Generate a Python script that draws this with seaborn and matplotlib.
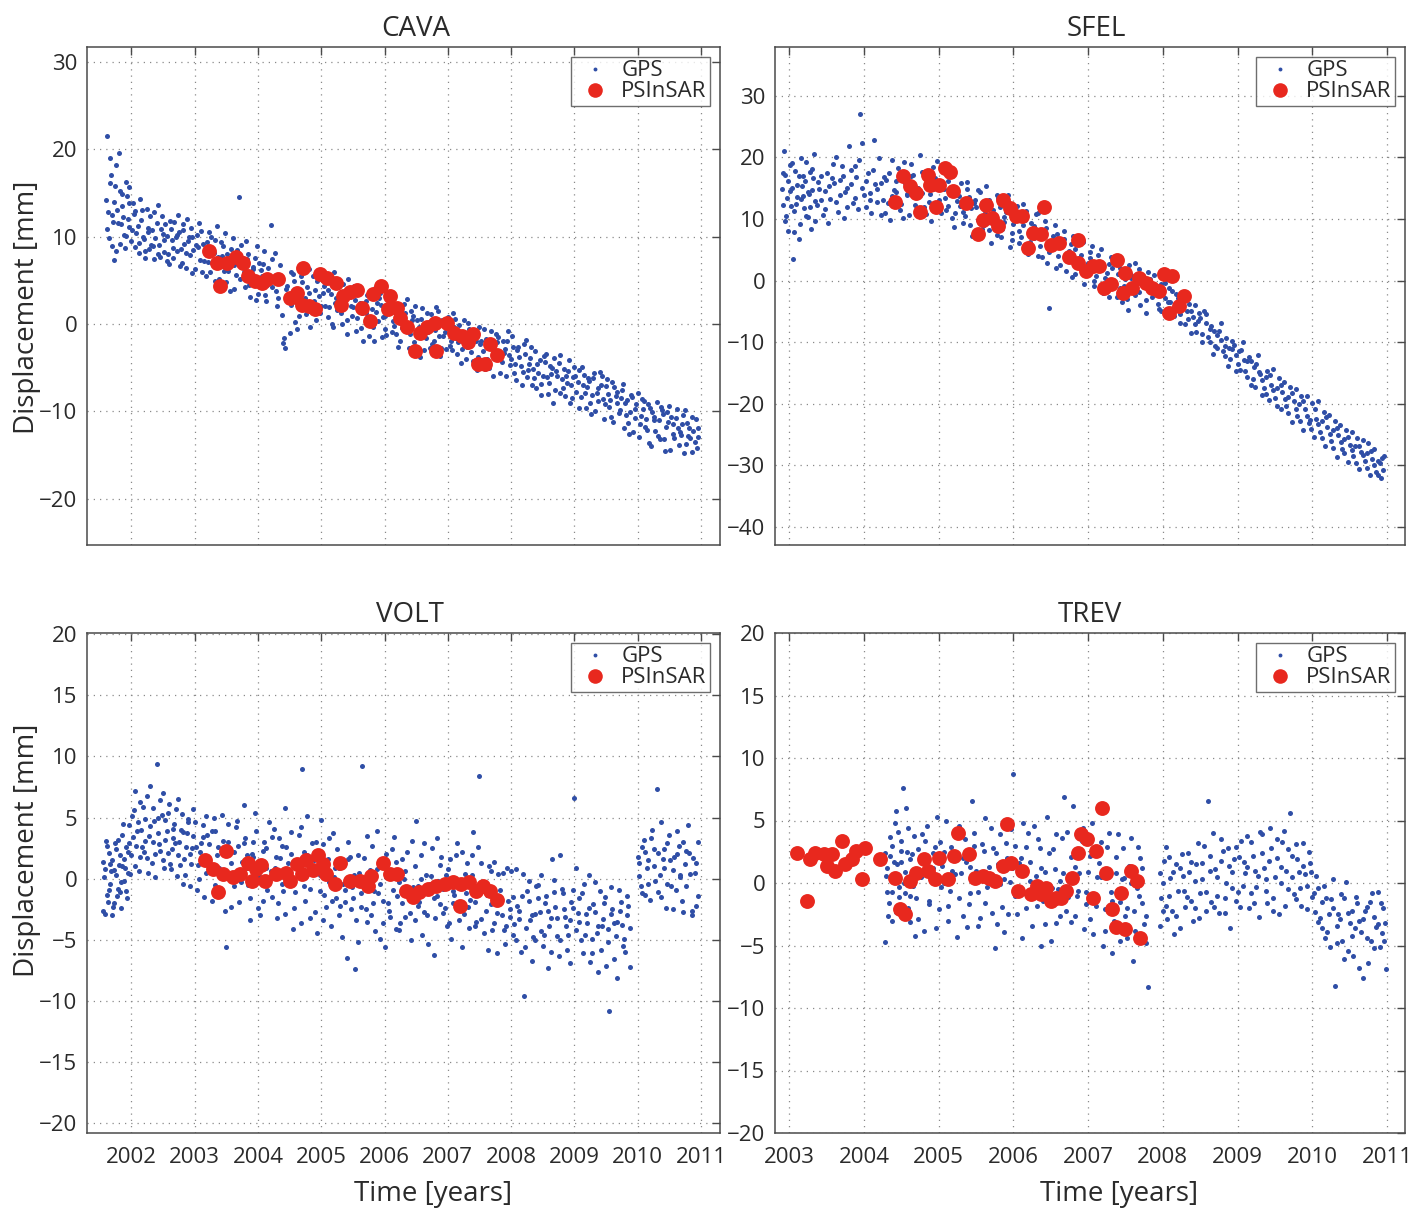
import numpy as np
import pandas as pd
import matplotlib
matplotlib.use("Agg")
import matplotlib.pyplot as plt
import seaborn as sns
from matplotlib.lines import Line2D

# ---------------- data ----------------
cava_gps_t = [2001.60, 2001.62, 2001.65, 2001.68, 2001.70, 2001.73, 2001.75, 2001.78, 2001.80, 2001.83,
              2001.86, 2001.88, 2001.91, 2001.94, 2001.97, 2002.00, 2002.04, 2002.08, 2002.12, 2002.16,
              2002.20, 2002.24, 2002.28, 2002.32, 2002.36, 2002.40, 2002.44, 2002.48, 2002.52, 2002.56,
              2002.60, 2002.64, 2002.68, 2002.72, 2002.76, 2002.80, 2002.84, 2002.88, 2002.92, 2002.96,
              2003.00, 2003.05, 2003.10, 2003.15, 2003.20, 2003.25, 2003.30, 2003.35, 2003.40, 2003.45,
              2003.50, 2003.55, 2003.60, 2003.65, 2003.70, 2003.75, 2003.80, 2003.85, 2003.90, 2003.95,
              2004.00, 2004.05, 2004.10, 2004.15, 2004.20, 2004.25, 2004.30, 2004.35, 2004.40, 2004.45,
              2004.50, 2004.55, 2004.60, 2004.65, 2004.70, 2004.75, 2004.80, 2004.85, 2004.90, 2004.95,
              2005.00, 2005.05, 2005.10, 2005.15, 2005.20, 2005.25, 2005.30, 2005.35, 2005.40, 2005.45,
              2005.50, 2005.55, 2005.60, 2005.65, 2005.70, 2005.75, 2005.80, 2005.85, 2005.90, 2005.95,
              2006.00, 2006.05, 2006.10, 2006.15, 2006.20, 2006.25, 2006.30, 2006.35, 2006.40, 2006.45,
              2006.50, 2006.55, 2006.60, 2006.65, 2006.70, 2006.75, 2006.80, 2006.85, 2006.90, 2006.95,
              2007.00, 2007.05, 2007.10, 2007.15, 2007.20, 2007.25, 2007.30, 2007.35, 2007.40, 2007.45,
              2007.50, 2007.55, 2007.60, 2007.65, 2007.70, 2007.75, 2007.80, 2007.85, 2007.90, 2007.95,
              2008.00, 2008.05, 2008.10, 2008.15, 2008.20, 2008.25, 2008.30, 2008.35, 2008.40, 2008.45,
              2008.50, 2008.55, 2008.60, 2008.65, 2008.70, 2008.75, 2008.80, 2008.85, 2008.90, 2008.95,
              2009.00, 2009.05, 2009.10, 2009.15, 2009.20, 2009.25, 2009.30, 2009.35, 2009.40, 2009.45,
              2009.50, 2009.55, 2009.60, 2009.65, 2009.70, 2009.75, 2009.80, 2009.85, 2009.90, 2009.95,
              2010.00, 2010.05, 2010.10, 2010.15, 2010.20, 2010.25, 2010.30, 2010.35, 2010.40, 2010.45,
              2010.50, 2010.55, 2010.60, 2010.65, 2010.70, 2010.75, 2010.80, 2010.85, 2010.90, 2010.95]
cava_gps_y = [14.2, 21.5, 9.8, 17.0, 12.5, 7.3, 15.8, 13.1, 19.6, 11.4,
              14.9, 10.2, 16.3, 12.0, 13.8, 9.5, 12.6, 10.4, 8.1, 11.9,
              9.7, 13.2, 8.6, 10.8, 7.4, 11.5, 9.0, 12.3, 8.2, 10.1,
              6.9, 9.6, 11.7, 8.3, 10.5, 7.0, 9.2, 12.0, 7.9, 9.9,
              6.3, 8.8, 10.6, 7.2, 9.4, 5.9, 8.1, 11.2, 6.6, 8.9,
              4.8, 7.5, 9.8, 5.6, 14.5, 6.9, 4.2, 8.0, 5.5, 7.6,
              3.4, 6.2, 8.3, 4.5, 11.3, 5.0, 2.1, 6.8, -2.2, 4.0,
              -1.0, 5.7, 2.5, 0.9, 4.8, 3.0, 6.3, 1.4, 3.9, 5.4,
              2.0, 4.3, 0.8, 3.4, 5.9, 1.6, 2.8, 4.6, 0.5, 3.1,
              1.9, -0.8, 3.8, 1.2, 2.6, -1.4, 1.7, 4.1, 0.3, 2.2,
              -0.6, 1.8, 3.5, -0.2, 1.3, -2.0, 0.7, 2.8, -1.1, 0.9,
              -3.3, -0.4, 1.8, -1.6, 0.2, -2.3, -0.7, 1.5, -2.8, -0.9,
              0.8, -1.9, -0.3, -3.4, -1.2, 0.5, -2.6, -1.0, -4.2, -2.0,
              -0.4, -3.1, -1.7, -5.0, -2.4, -3.6, -1.5, -4.4, -2.9, -0.8,
              -4.0, -5.6, -3.0, -4.8, -2.3, -6.1, -3.9, -5.2, -7.3, -4.1,
              -5.9, -3.4, -6.8, -5.0, -7.6, -4.5, -6.3, -8.2, -5.4, -7.0,
              -4.9, -6.6, -8.4, -5.8, -7.2, -9.1, -6.2, -7.9, -5.5, -8.6,
              -7.1, -9.5, -6.7, -8.3, -10.2, -7.6, -9.0, -11.3, -8.1, -9.7,
              -7.9, -10.5, -8.8, -12.1, -9.6, -11.0, -8.9, -13.2, -10.3, -11.8,
              -9.4, -12.6, -10.8, -13.9, -11.5, -9.9, -12.8, -10.7, -13.5, -11.9]
cava_gps_more = [(2001.63, 12.8), (2001.66, 16.1), (2001.69, 8.9), (2001.72, 14.0), (2001.76, 18.2), (2001.79, 11.6),
                 (2001.82, 9.1), (2001.85, 13.5), (2001.90, 8.7), (2001.93, 14.6), (2001.96, 11.1), (2002.02, 13.9),
                 (2002.06, 8.8), (2002.10, 11.2), (2002.14, 14.3), (2002.18, 10.0), (2002.22, 7.6), (2002.26, 11.0),
                 (2002.30, 12.4), (2002.34, 8.9), (2002.38, 9.8), (2002.42, 13.6), (2002.46, 7.7), (2002.50, 10.3),
                 (2002.54, 11.4), (2002.58, 8.0), (2002.62, 10.9), (2002.66, 7.5), (2002.70, 9.9), (2002.74, 12.5),
                 (2002.78, 8.6), (2002.82, 10.7), (2002.86, 6.4), (2002.90, 9.5), (2002.94, 11.0), (2002.98, 8.5),
                 (2003.03, 10.2), (2003.08, 7.3), (2003.13, 9.1), (2003.18, 5.5), (2003.23, 10.5), (2003.28, 7.0),
                 (2003.33, 9.6), (2003.38, 5.2), (2003.43, 7.8), (2003.48, 10.4), (2003.53, 6.1), (2003.58, 8.6),
                 (2003.63, 4.0), (2003.68, 7.1), (2003.73, 9.0), (2003.78, 5.9), (2003.83, 7.4), (2003.88, 3.1),
                 (2003.93, 6.5), (2003.98, 8.9), (2004.03, 4.8), (2004.08, 6.9), (2004.13, 2.6), (2004.18, 5.3),
                 (2004.23, 7.4), (2004.28, 3.8), (2004.33, 4.9), (2004.38, 1.0), (2004.43, -2.8), (2004.48, 3.3),
                 (2004.53, 6.0), (2004.58, 0.2), (2004.63, 3.7), (2004.68, 5.5), (2004.73, 1.9), (2004.78, 4.2),
                 (2004.83, -0.4), (2004.88, 2.6), (2004.93, 4.9), (2004.98, 1.2), (2005.03, 3.6), (2005.08, 5.1),
                 (2005.13, 1.9), (2005.18, -0.3), (2005.23, 3.0), (2005.28, 4.4), (2005.33, 0.0), (2005.38, 2.3),
                 (2005.43, 5.2), (2005.48, 0.9), (2005.53, 2.7), (2005.58, 4.0), (2005.63, -0.5), (2005.68, 1.9),
                 (2005.73, 3.3), (2005.78, 0.6), (2005.83, -2.0), (2005.88, 2.4), (2005.93, 3.6), (2005.98, 0.8),
                 (2006.03, -1.3), (2006.08, 2.6), (2006.13, 0.3), (2006.18, -1.1), (2006.23, 2.0), (2006.28, -0.5),
                 (2006.33, 1.2), (2006.38, -2.7), (2006.43, 0.4), (2006.48, 2.1), (2006.53, -1.5), (2006.58, 0.6),
                 (2006.63, -3.0), (2006.68, -0.9), (2006.73, 1.1), (2006.78, -1.9), (2006.83, 0.4), (2006.88, -3.7),
                 (2006.93, -1.4), (2006.98, -0.1), (2007.03, -2.5), (2007.08, 1.2), (2007.13, -1.6), (2007.18, -0.1),
                 (2007.23, -2.9), (2007.28, -4.0), (2007.33, -0.6), (2007.38, -2.2), (2007.43, -0.9), (2007.48, -3.8),
                 (2007.53, -1.9), (2007.58, -5.2), (2007.63, -2.8), (2007.68, -0.8), (2007.73, -3.9), (2007.78, -2.1),
                 (2007.83, -5.6), (2007.88, -3.3), (2007.93, -1.9), (2007.98, -4.7), (2008.03, -2.6), (2008.08, -6.4),
                 (2008.13, -3.8), (2008.18, -5.5), (2008.23, -1.8), (2008.28, -4.6), (2008.33, -7.0), (2008.38, -3.1),
                 (2008.43, -5.6), (2008.48, -6.9), (2008.53, -4.4), (2008.58, -8.0), (2008.63, -5.7), (2008.68, -3.9),
                 (2008.73, -6.0), (2008.78, -7.9), (2008.83, -5.2), (2008.88, -6.8), (2008.93, -9.0), (2008.98, -6.1),
                 (2009.03, -7.8), (2009.08, -5.3), (2009.13, -7.0), (2009.18, -9.6), (2009.23, -6.5), (2009.28, -8.1),
                 (2009.33, -10.0), (2009.38, -7.3), (2009.43, -6.0), (2009.48, -9.2), (2009.53, -8.0), (2009.58, -10.6),
                 (2009.63, -7.2), (2009.68, -9.1), (2009.73, -8.5), (2009.78, -11.9), (2009.83, -8.7), (2009.88, -10.1),
                 (2009.93, -12.4), (2009.98, -9.2), (2010.03, -11.4), (2010.08, -9.7), (2010.13, -10.9), (2010.18, -13.6),
                 (2010.23, -10.1), (2010.28, -12.3), (2010.33, -11.0), (2010.38, -9.8), (2010.43, -14.5), (2010.48, -11.2),
                 (2010.53, -10.6), (2010.58, -13.0), (2010.63, -11.9), (2010.68, -12.7), (2010.73, -14.8), (2010.78, -11.3),
                 (2010.83, -13.1), (2010.88, -12.2), (2010.93, -14.2)]
cava_gps_extra = [(2001.615, 10.9), (2001.665, 19.0), (2001.715, 11.7), (2001.765, 8.4), (2001.815, 15.2), (2001.865, 12.2),
                  (2001.915, 10.1), (2001.965, 15.7), (2002.015, 10.7), (2002.065, 12.9), (2002.115, 9.3), (2002.165, 13.0),
                  (2002.215, 8.4), (2002.265, 10.5), (2002.315, 9.0), (2002.365, 12.8), (2002.415, 8.0), (2002.465, 10.9),
                  (2002.515, 9.6), (2002.565, 7.2), (2002.615, 11.8), (2002.665, 8.7), (2002.715, 10.2), (2002.765, 6.6),
                  (2002.815, 11.4), (2002.865, 8.1), (2002.915, 10.0), (2002.965, 5.8), (2003.015, 9.0), (2003.065, 11.5),
                  (2003.115, 6.0), (2003.165, 8.3), (2003.215, 7.1), (2003.265, 9.9), (2003.315, 4.9), (2003.365, 7.7),
                  (2003.415, 9.4), (2003.465, 6.1), (2003.515, 8.0), (2003.565, 3.8), (2003.615, 6.7), (2003.665, 8.5),
                  (2003.715, 5.1), (2003.765, 7.6), (2003.815, 9.5), (2003.865, 4.5), (2003.915, 6.3), (2003.965, 2.7),
                  (2004.015, 7.0), (2004.065, 5.5), (2004.115, 3.3), (2004.165, 6.4), (2004.215, 4.2), (2004.265, 8.1),
                  (2004.315, 3.0), (2004.365, 5.4), (2004.415, -1.6), (2004.465, 4.4), (2004.515, 2.2), (2004.565, 4.9),
                  (2004.615, -0.6), (2004.665, 3.0), (2004.715, 6.8), (2004.765, 1.1), (2004.815, 3.6), (2004.865, 5.5),
                  (2004.915, 0.4), (2004.965, 3.2), (2005.015, 5.6), (2005.065, 2.1), (2005.115, 3.9), (2005.165, 0.0),
                  (2005.215, 2.4), (2005.265, 4.9), (2005.315, 1.3), (2005.365, 3.3), (2005.415, -1.1), (2005.465, 2.0),
                  (2005.515, 4.4), (2005.565, 0.7), (2005.615, 2.4), (2005.665, -1.9), (2005.715, 1.2), (2005.765, 3.6),
                  (2005.815, -0.3), (2005.865, 1.4), (2005.915, 3.0), (2005.965, -1.5), (2006.015, 0.9), (2006.065, 2.4),
                  (2006.115, -0.9), (2006.165, 1.9), (2006.215, -2.6), (2006.265, 0.1), (2006.315, 2.3), (2006.365, -0.8),
                  (2006.415, 1.5), (2006.465, -2.1), (2006.515, 0.4), (2006.565, -3.8), (2006.615, -0.9), (2006.665, 1.3),
                  (2006.715, -2.7), (2006.765, -0.3), (2006.815, 1.9), (2006.865, -1.4), (2006.915, 0.5), (2006.965, -2.9),
                  (2007.015, -0.6), (2007.065, -3.0), (2007.115, 0.6), (2007.165, -2.1), (2007.215, -4.5), (2007.265, -1.6),
                  (2007.315, 0.1), (2007.365, -3.2), (2007.415, -1.4), (2007.465, -5.3), (2007.515, -2.3), (2007.565, -0.6),
                  (2007.615, -4.0), (2007.665, -2.1), (2007.715, -5.9), (2007.765, -1.2), (2007.815, -3.3), (2007.865, -2.0),
                  (2007.915, -6.0), (2007.965, -3.5), (2008.015, -1.4), (2008.065, -4.6), (2008.115, -2.6), (2008.165, -7.0),
                  (2008.215, -3.4), (2008.265, -5.3), (2008.315, -2.6), (2008.365, -6.2), (2008.415, -4.6), (2008.465, -8.1),
                  (2008.515, -3.7), (2008.565, -6.1), (2008.615, -4.8), (2008.665, -9.0), (2008.715, -5.4), (2008.765, -3.6),
                  (2008.815, -7.3), (2008.865, -5.9), (2008.915, -4.1), (2008.965, -8.5), (2009.015, -6.0), (2009.065, -9.6),
                  (2009.115, -4.9), (2009.165, -7.9), (2009.215, -6.2), (2009.265, -10.3), (2009.315, -5.6), (2009.365, -8.8),
                  (2009.415, -7.0), (2009.465, -10.9), (2009.515, -6.3), (2009.565, -8.7), (2009.615, -11.2), (2009.665, -7.8),
                  (2009.715, -9.9), (2009.765, -6.9), (2009.815, -10.4), (2009.865, -12.6), (2009.915, -8.4), (2009.965, -10.8),
                  (2010.015, -12.9), (2010.065, -8.6), (2010.115, -11.8), (2010.165, -9.2), (2010.215, -14.0), (2010.265, -10.7),
                  (2010.315, -12.8), (2010.365, -9.5), (2010.415, -13.2), (2010.465, -10.1), (2010.515, -14.4), (2010.565, -11.5),
                  (2010.615, -9.7), (2010.665, -12.4), (2010.715, -10.4), (2010.765, -13.7), (2010.815, -11.9), (2010.865, -14.6),
                  (2010.915, -10.9), (2010.945, -12.9)]
cava_ps_t = [2003.22, 2003.35, 2003.40, 2003.51, 2003.66, 2003.77, 2003.85, 2003.95, 2004.06, 2004.14,
             2004.32, 2004.51, 2004.61, 2004.72, 2004.69, 2004.80, 2004.90, 2004.98, 2005.09, 2005.24,
             2005.35, 2005.32, 2005.45, 2005.56, 2005.64, 2005.77, 2005.82, 2005.95, 2006.09, 2006.06,
             2006.19, 2006.24, 2006.35, 2006.48, 2006.56, 2006.67, 2006.82, 2006.80, 2006.98, 2007.09,
             2007.22, 2007.32, 2007.40, 2007.48, 2007.59, 2007.67, 2007.77]
cava_ps_y = [8.3, 7.0, 4.3, 7.0, 7.7, 7.0, 5.5, 4.9, 4.7, 5.1,
             5.1, 3.0, 3.6, 6.4, 2.2, 2.0, 1.7, 5.7, 5.3, 4.7,
             3.2, 2.2, 3.7, 3.9, 1.8, 0.3, 3.4, 4.3, 3.2, 1.7,
             1.8, 0.7, -0.3, -3.1, -1.0, -0.3, -3.1, 0.1, 0.1, -1.0,
             -1.4, -2.1, -1.2, -4.6, -4.6, -2.3, -3.5]

sfel_gps_t = [2002.90, 2002.93, 2002.96, 2002.99, 2003.02, 2003.05, 2003.08, 2003.11, 2003.14, 2003.17,
              2003.20, 2003.23, 2003.26, 2003.29, 2003.32, 2003.35, 2003.40, 2003.45, 2003.50, 2003.55,
              2003.60, 2003.65, 2003.70, 2003.75, 2003.80, 2003.85, 2003.90, 2003.95, 2004.00, 2004.05,
              2004.10, 2004.15, 2004.20, 2004.25, 2004.30, 2004.35, 2004.40, 2004.45, 2004.50, 2004.55,
              2004.60, 2004.65, 2004.70, 2004.75, 2004.80, 2004.85, 2004.90, 2004.95, 2005.00, 2005.05,
              2005.10, 2005.15, 2005.20, 2005.25, 2005.30, 2005.35, 2005.40, 2005.45, 2005.50, 2005.55,
              2005.60, 2005.65, 2005.70, 2005.75, 2005.80, 2005.85, 2005.90, 2005.95, 2006.00, 2006.05,
              2006.10, 2006.15, 2006.20, 2006.25, 2006.30, 2006.35, 2006.40, 2006.45, 2006.50, 2006.55,
              2006.60, 2006.65, 2006.70, 2006.75, 2006.80, 2006.85, 2006.90, 2006.95, 2007.00, 2007.05,
              2007.10, 2007.15, 2007.20, 2007.25, 2007.30, 2007.35, 2007.40, 2007.45, 2007.50, 2007.55,
              2007.60, 2007.65, 2007.70, 2007.75, 2007.80, 2007.85, 2007.90, 2007.95, 2008.00, 2008.05,
              2008.10, 2008.15, 2008.20, 2008.25, 2008.30, 2008.35, 2008.40, 2008.45, 2008.50, 2008.55,
              2008.60, 2008.65, 2008.70, 2008.75, 2008.80, 2008.85, 2008.90, 2008.95, 2009.00, 2009.05,
              2009.10, 2009.15, 2009.20, 2009.25, 2009.30, 2009.35, 2009.40, 2009.45, 2009.50, 2009.55,
              2009.60, 2009.65, 2009.70, 2009.75, 2009.80, 2009.85, 2009.90, 2009.95, 2010.00, 2010.05,
              2010.10, 2010.15, 2010.20, 2010.25, 2010.30, 2010.35, 2010.40, 2010.45, 2010.50, 2010.55,
              2010.60, 2010.65, 2010.70, 2010.75, 2010.80, 2010.85, 2010.90, 2010.95]
sfel_gps_y = [14.8, 21.0, 10.5, 16.2, 12.1, 3.5, 17.8, 13.6, 9.2, 15.4,
              11.8, 19.3, 14.0, 8.4, 16.7, 12.9, 14.9, 10.7, 17.4, 13.3,
              15.9, 11.2, 18.6, 14.4, 21.8, 12.6, 16.8, 27.0, 13.9, 17.5,
              11.0, 15.6, 19.9, 13.0, 16.4, 9.8, 14.7, 18.2, 12.4, 15.8,
              10.6, 17.1, 13.5, 20.4, 12.0, 15.2, 9.6, 16.6, 13.1, 18.7,
              11.5, 14.6, 8.7, 12.9, 15.8, 10.4, 13.6, 7.2, 11.9, 14.3,
              9.0, 12.2, 6.1, 10.6, 13.4, 8.3, 11.1, 5.4, 9.2, 12.1,
              7.0, 9.9, 4.3, 8.1, 10.8, 5.6, 7.7, 2.9, 6.4, 9.1,
              4.0, 5.9, 1.5, 4.8, 7.3, 2.4, 4.1, -0.5, 2.9, 5.6,
              0.8, 2.5, -2.0, 1.3, 3.9, -0.6, 1.0, -3.4, 0.2, 2.6,
              -1.8, -0.3, -4.0, -1.1, 1.4, -2.6, -0.9, -4.6, -2.0, 0.3,
              -3.5, -5.8, -2.9, -4.4, -7.0, -3.8, -5.9, -8.3, -6.1, -4.9,
              -9.2, -7.4, -10.6, -8.1, -11.5, -9.3, -12.8, -10.4, -13.6, -11.2,
              -14.7, -12.4, -16.0, -13.5, -15.2, -17.4, -14.6, -16.9, -19.1, -15.8,
              -18.0, -20.3, -17.2, -19.6, -22.0, -18.7, -20.8, -23.1, -19.9, -22.4,
              -24.6, -21.3, -23.7, -26.0, -22.8, -25.1, -27.3, -24.2, -26.6, -28.4,
              -25.5, -27.8, -29.2, -26.4, -28.9, -31.0, -29.6, -30.8]
sfel_gps_more = [(2002.92, 12.3), (2002.95, 17.2), (2002.98, 8.1), (2003.01, 14.6), (2003.04, 19.0), (2003.07, 11.3),
                 (2003.10, 15.5), (2003.13, 6.8), (2003.16, 13.2), (2003.19, 17.0), (2003.22, 10.4), (2003.25, 14.3),
                 (2003.28, 12.0), (2003.31, 18.1), (2003.34, 9.7), (2003.38, 16.0), (2003.43, 13.1), (2003.48, 11.6),
                 (2003.53, 15.3), (2003.58, 18.9), (2003.63, 12.7), (2003.68, 16.3), (2003.73, 10.1), (2003.78, 15.0),
                 (2003.83, 17.9), (2003.88, 13.4), (2003.93, 19.5), (2003.98, 15.1), (2004.03, 11.9), (2004.08, 14.2),
                 (2004.13, 22.8), (2004.18, 12.8), (2004.23, 15.9), (2004.28, 10.9), (2004.33, 17.4), (2004.38, 13.8),
                 (2004.43, 16.1), (2004.48, 11.4), (2004.53, 19.2), (2004.58, 14.0), (2004.63, 16.9), (2004.68, 12.3),
                 (2004.73, 15.1), (2004.78, 17.7), (2004.83, 10.8), (2004.88, 14.1), (2004.93, 18.5), (2004.98, 11.8),
                 (2005.03, 15.3), (2005.08, 13.4), (2005.13, 16.2), (2005.18, 10.2), (2005.23, 14.8), (2005.28, 12.1),
                 (2005.33, 9.3), (2005.38, 14.9), (2005.43, 11.7), (2005.48, 13.1), (2005.53, 9.8), (2005.58, 12.6),
                 (2005.63, 15.4), (2005.68, 8.2), (2005.73, 11.4), (2005.78, 13.9), (2005.83, 7.1), (2005.88, 10.3),
                 (2005.93, 12.9), (2005.98, 6.6), (2006.03, 10.5), (2006.08, 8.0), (2006.13, 12.4), (2006.18, 5.2),
                 (2006.23, 9.4), (2006.28, 6.9), (2006.33, 11.0), (2006.38, 3.8), (2006.43, 8.6), (2006.48, -4.4),
                 (2006.53, 5.1), (2006.58, 7.6), (2006.63, 2.6), (2006.68, 6.7), (2006.73, 4.3), (2006.78, 0.6),
                 (2006.83, 5.2), (2006.88, 3.0), (2006.93, 6.2), (2006.98, 1.1), (2007.03, 3.7), (2007.08, -0.9),
                 (2007.13, 4.2), (2007.18, 1.8), (2007.23, -1.4), (2007.28, 2.7), (2007.33, 0.1), (2007.38, -2.6),
                 (2007.43, 2.0), (2007.48, -0.8), (2007.53, -4.8), (2007.58, 0.9), (2007.63, -2.3), (2007.68, 1.9),
                 (2007.73, -0.4), (2007.78, -3.1), (2007.83, 0.2), (2007.88, -1.6), (2007.93, -3.8), (2007.98, -0.5),
                 (2008.03, -2.8), (2008.08, -1.2), (2008.13, -4.5), (2008.18, -2.1), (2008.23, -5.4), (2008.28, -3.0),
                 (2008.33, -6.2), (2008.38, -4.9), (2008.43, -7.1), (2008.48, -5.3), (2008.53, -8.6), (2008.58, -6.8),
                 (2008.63, -9.9), (2008.68, -8.2), (2008.73, -11.0), (2008.78, -9.6), (2008.83, -12.3), (2008.88, -10.9),
                 (2008.93, -9.8), (2008.98, -12.0), (2009.03, -14.5), (2009.08, -12.9), (2009.13, -15.6), (2009.18, -13.1),
                 (2009.23, -17.2), (2009.28, -14.8), (2009.33, -16.1), (2009.38, -18.4), (2009.43, -15.3), (2009.48, -17.7),
                 (2009.53, -20.4), (2009.58, -16.9), (2009.63, -19.2), (2009.68, -21.5), (2009.73, -18.3), (2009.78, -20.9),
                 (2009.83, -22.7), (2009.88, -19.5), (2009.93, -21.9), (2009.98, -24.0), (2010.03, -20.8), (2010.08, -23.3),
                 (2010.13, -25.5), (2010.18, -22.2), (2010.23, -24.9), (2010.28, -27.1), (2010.33, -23.9), (2010.38, -26.2),
                 (2010.43, -28.0), (2010.48, -25.4), (2010.53, -27.5), (2010.58, -29.6), (2010.63, -26.8), (2010.68, -28.3),
                 (2010.73, -30.4), (2010.78, -27.6), (2010.83, -29.9), (2010.88, -31.6), (2010.93, -28.8)]
sfel_gps_extra = [(2002.915, 17.4), (2002.945, 9.6), (2002.975, 13.4), (2003.005, 18.8), (2003.035, 15.0), (2003.065, 7.9),
                  (2003.095, 12.5), (2003.125, 16.9), (2003.155, 19.9), (2003.185, 13.7), (2003.215, 16.1), (2003.245, 10.3),
                  (2003.275, 17.6), (2003.305, 14.7), (2003.335, 20.6), (2003.375, 12.2), (2003.425, 17.0), (2003.475, 14.5),
                  (2003.525, 9.4), (2003.575, 16.6), (2003.625, 20.1), (2003.675, 13.9), (2003.725, 16.9), (2003.775, 12.0),
                  (2003.825, 15.6), (2003.875, 18.6), (2003.925, 11.6), (2003.975, 22.3), (2004.025, 16.2), (2004.075, 13.1),
                  (2004.125, 17.9), (2004.175, 14.9), (2004.225, 10.6), (2004.275, 16.8), (2004.325, 12.6), (2004.375, 19.6),
                  (2004.425, 14.4), (2004.475, 16.9), (2004.525, 10.1), (2004.575, 13.9), (2004.625, 18.9), (2004.675, 15.3),
                  (2004.725, 11.1), (2004.775, 14.2), (2004.825, 16.8), (2004.875, 12.7), (2004.925, 14.9), (2004.975, 19.4),
                  (2005.025, 11.0), (2005.075, 14.8), (2005.125, 12.1), (2005.175, 17.0), (2005.225, 10.9), (2005.275, 13.7),
                  (2005.325, 11.1), (2005.375, 16.0), (2005.425, 9.1), (2005.475, 12.6), (2005.525, 14.7), (2005.575, 8.4),
                  (2005.625, 10.9), (2005.675, 13.0), (2005.725, 9.4), (2005.775, 7.4), (2005.825, 11.9), (2005.875, 9.5),
                  (2005.925, 13.9), (2005.975, 7.7), (2006.025, 10.9), (2006.075, 6.1), (2006.125, 9.0), (2006.175, 11.3),
                  (2006.225, 6.2), (2006.275, 8.8), (2006.325, 4.0), (2006.375, 7.1), (2006.425, 9.6), (2006.475, 4.6),
                  (2006.525, 7.3), (2006.575, 2.1), (2006.625, 5.6), (2006.675, 8.0), (2006.725, 3.1), (2006.775, 5.9),
                  (2006.825, 1.1), (2006.875, 3.6), (2006.925, 6.4), (2006.975, 2.2), (2007.025, 4.7), (2007.075, -0.1),
                  (2007.125, 2.9), (2007.175, 5.2), (2007.225, 0.4), (2007.275, -2.6), (2007.325, 2.1), (2007.375, 4.0),
                  (2007.425, -1.2), (2007.475, 1.7), (2007.525, -3.0), (2007.575, 0.5), (2007.625, 2.9), (2007.675, -1.9),
                  (2007.725, 0.8), (2007.775, -5.2), (2007.825, -1.6), (2007.875, 0.9), (2007.925, -2.3), (2007.975, -4.9),
                  (2008.025, -0.4), (2008.075, -3.4), (2008.125, -1.7), (2008.175, -4.0), (2008.225, -6.8), (2008.275, -2.1),
                  (2008.325, -4.9), (2008.375, -8.5), (2008.425, -4.0), (2008.475, -6.6), (2008.525, -10.0), (2008.575, -5.4),
                  (2008.625, -7.8), (2008.675, -11.9), (2008.725, -8.9), (2008.775, -6.9), (2008.825, -10.6), (2008.875, -13.9),
                  (2008.925, -11.1), (2008.975, -14.6), (2009.025, -11.4), (2009.075, -9.9), (2009.125, -13.1), (2009.175, -16.9),
                  (2009.225, -14.1), (2009.275, -12.0), (2009.325, -18.6), (2009.375, -15.6), (2009.425, -19.4), (2009.475, -14.4),
                  (2009.525, -17.5), (2009.575, -20.9), (2009.625, -16.4), (2009.675, -18.9), (2009.725, -23.0), (2009.775, -17.6),
                  (2009.825, -20.1), (2009.875, -24.2), (2009.925, -18.8), (2009.975, -22.6), (2010.025, -25.3), (2010.075, -19.6),
                  (2010.125, -22.8), (2010.175, -26.9), (2010.225, -21.8), (2010.275, -24.2), (2010.325, -28.6), (2010.375, -23.4),
                  (2010.425, -25.7), (2010.475, -29.4), (2010.525, -24.6), (2010.575, -26.8), (2010.625, -30.6), (2010.675, -25.8),
                  (2010.725, -28.0), (2010.775, -31.5), (2010.825, -27.4), (2010.875, -29.3), (2010.925, -32.0), (2010.955, -28.4)]
sfel_ps_t = [2004.41, 2004.52, 2004.61, 2004.70, 2004.75, 2004.86, 2004.88, 2004.97, 2005.01, 2005.08,
             2005.15, 2005.19, 2005.37, 2005.52, 2005.59, 2005.64, 2005.72, 2005.79, 2005.86, 2005.95,
             2006.04, 2006.12, 2006.19, 2006.26, 2006.37, 2006.41, 2006.50, 2006.61, 2006.75, 2006.86,
             2006.86, 2006.97, 2007.06, 2007.15, 2007.21, 2007.30, 2007.39, 2007.46, 2007.50, 2007.59,
             2007.68, 2007.77, 2007.86, 2007.95, 2008.01, 2008.12, 2008.08, 2008.21, 2008.28]
sfel_ps_y = [12.8, 16.9, 15.3, 14.2, 11.2, 17.2, 15.5, 12.0, 15.5, 18.2,
             17.7, 14.5, 12.6, 7.5, 9.9, 12.3, 10.1, 8.8, 13.1, 11.8,
             10.4, 10.4, 5.3, 7.7, 7.5, 12.0, 5.8, 6.1, 3.9, 6.6,
             2.9, 1.5, 2.3, 2.3, -1.2, -0.6, 3.4, -2.0, 1.2, -1.2,
             0.4, -0.4, -1.2, -1.7, 1.0, 0.7, -5.2, -4.1, -2.5]

volt_gps_t = [2001.55, 2001.58, 2001.61, 2001.64, 2001.67, 2001.70, 2001.73, 2001.76, 2001.79, 2001.82,
              2001.85, 2001.88, 2001.91, 2001.94, 2001.97, 2002.00, 2002.04, 2002.08, 2002.12, 2002.16,
              2002.20, 2002.24, 2002.28, 2002.32, 2002.36, 2002.40, 2002.44, 2002.48, 2002.52, 2002.56,
              2002.60, 2002.64, 2002.68, 2002.72, 2002.76, 2002.80, 2002.84, 2002.88, 2002.92, 2002.96,
              2003.00, 2003.05, 2003.10, 2003.15, 2003.20, 2003.25, 2003.30, 2003.35, 2003.40, 2003.45,
              2003.50, 2003.55, 2003.60, 2003.65, 2003.70, 2003.75, 2003.80, 2003.85, 2003.90, 2003.95,
              2004.00, 2004.05, 2004.10, 2004.15, 2004.20, 2004.25, 2004.30, 2004.35, 2004.40, 2004.45,
              2004.50, 2004.55, 2004.60, 2004.65, 2004.70, 2004.75, 2004.80, 2004.85, 2004.90, 2004.95,
              2005.00, 2005.05, 2005.10, 2005.15, 2005.20, 2005.25, 2005.30, 2005.35, 2005.40, 2005.45,
              2005.50, 2005.55, 2005.60, 2005.65, 2005.70, 2005.75, 2005.80, 2005.85, 2005.90, 2005.95,
              2006.00, 2006.05, 2006.10, 2006.15, 2006.20, 2006.25, 2006.30, 2006.35, 2006.40, 2006.45,
              2006.50, 2006.55, 2006.60, 2006.65, 2006.70, 2006.75, 2006.80, 2006.85, 2006.90, 2006.95,
              2007.00, 2007.05, 2007.10, 2007.15, 2007.20, 2007.25, 2007.30, 2007.35, 2007.40, 2007.45,
              2007.50, 2007.55, 2007.60, 2007.65, 2007.70, 2007.75, 2007.80, 2007.85, 2007.90, 2007.95,
              2008.00, 2008.05, 2008.10, 2008.15, 2008.20, 2008.25, 2008.30, 2008.35, 2008.40, 2008.45,
              2008.50, 2008.55, 2008.60, 2008.65, 2008.70, 2008.75, 2008.80, 2008.85, 2008.90, 2008.95,
              2009.00, 2009.05, 2009.10, 2009.15, 2009.20, 2009.25, 2009.30, 2009.35, 2009.40, 2009.45,
              2009.50, 2009.55, 2009.60, 2009.65, 2009.70, 2009.75, 2009.80, 2009.85, 2010.00, 2010.05,
              2010.10, 2010.15, 2010.20, 2010.25, 2010.30, 2010.35, 2010.40, 2010.45, 2010.50, 2010.55,
              2010.60, 2010.65, 2010.70, 2010.75, 2010.80, 2010.85, 2010.90, 2010.95]
volt_gps_y = [-2.6, 0.8, -1.3, 2.1, -0.4, 1.5, -2.0, 0.3, 3.2, -1.1,
              1.0, -0.2, 2.6, 0.5, 4.4, 1.9, 5.6, 2.7, 0.6, 4.0,
              2.2, 6.8, 3.5, 1.3, 4.7, 9.4, 2.8, 5.2, 0.9, 3.9,
              6.1, 2.4, 4.5, 0.2, 3.0, 5.3, 1.6, 3.7, -0.6, 2.5,
              4.6, 1.1, 2.9, -1.5, 3.6, 0.7, 5.0, 1.9, -0.8, 3.1,
              -5.6, 2.3, 0.1, 4.2, -1.9, 1.4, 3.3, -0.5, 2.0, 5.4,
              -2.4, 1.2, 3.0, -0.9, 0.6, 4.1, -3.2, 1.7, -1.0, 2.6,
              0.2, -4.1, 1.4, 3.6, 9.0, -1.8, 0.7, 2.9, -2.7, 0.9,
              4.8, -1.3, 1.6, -3.9, 0.1, 2.4, -2.2, -0.4, -6.5, 1.8,
              -1.6, -3.4, 0.5, 9.2, -2.5, -0.3, 2.7, -4.3, -1.2, 1.1,
              -5.6, -2.0, 0.6, 3.4, -1.4, -3.6, 0.0, 2.2, -2.8, -0.7,
              4.7, -1.9, -4.6, 0.3, -1.1, 2.5, -3.2, -0.2, 1.8, -2.4,
              0.8, -4.9, -1.3, 2.9, -0.5, -2.9, 1.3, -1.7, 3.8, -3.5,
              8.4, -0.9, -2.6, 1.0, -4.2, -1.5, 0.4, -3.0, -5.3, -1.8,
              0.6, -3.7, -2.2, -6.0, -9.6, -1.0, -3.4, -4.8, -0.6, -2.7,
              -5.5, -1.4, -3.9, 1.6, -2.3, -6.3, -0.8, -3.1, -4.6, -1.9,
              6.6, -2.8, -5.0, -0.4, -3.6, -6.8, -2.1, -4.4, -1.0, -3.3,
              -7.1, -10.8, -2.5, -4.7, -0.9, -3.8, -6.0, -2.2, 1.8, -0.6,
              3.2, 0.9, -1.7, 2.4, 7.3, 0.3, 1.6, -2.4, 3.6, 0.7,
              -0.9, 2.7, -1.8, 1.2, 4.4, -3.0, 0.5, -1.4]
volt_gps_more = [(2001.56, 1.4), (2001.59, -2.9), (2001.62, 2.7), (2001.65, -0.9), (2001.68, 0.6), (2001.71, -2.3),
                 (2001.74, 2.9), (2001.77, -1.4), (2001.80, 1.1), (2001.83, -0.3), (2001.86, 3.6), (2001.89, 1.6),
                 (2001.92, -1.0), (2001.95, 2.2), (2001.98, 0.4), (2002.02, 3.4), (2002.06, 7.2), (2002.10, 4.6),
                 (2002.14, 1.8), (2002.18, 5.9), (2002.22, 3.1), (2002.26, 0.5), (2002.30, 4.3), (2002.34, 5.8),
                 (2002.38, 2.0), (2002.42, 3.7), (2002.46, 6.4), (2002.50, 1.5), (2002.54, 4.8), (2002.58, 2.1),
                 (2002.62, 0.8), (2002.66, 3.3), (2002.70, 5.7), (2002.74, 1.9), (2002.78, 4.0), (2002.82, -0.4),
                 (2002.86, 2.6), (2002.90, 4.9), (2002.94, 1.2), (2002.98, 3.5), (2003.03, -0.9), (2003.08, 2.2),
                 (2003.13, 4.4), (2003.18, 0.5), (2003.23, 2.8), (2003.28, -1.8), (2003.33, 3.9), (2003.38, 0.9),
                 (2003.43, 2.4), (2003.48, -2.6), (2003.53, 4.5), (2003.58, 1.3), (2003.63, -0.6), (2003.68, 2.7),
                 (2003.73, 0.0), (2003.78, 6.0), (2003.83, 1.9), (2003.88, -1.6), (2003.93, 3.0), (2003.98, 0.4),
                 (2004.03, -3.0), (2004.08, 2.3), (2004.13, 0.9), (2004.18, 4.6), (2004.23, -1.5), (2004.28, 1.8),
                 (2004.33, 3.3), (2004.38, -0.4), (2004.43, -2.9), (2004.48, 1.3), (2004.53, 3.8), (2004.58, -1.1),
                 (2004.63, 0.7), (2004.68, -3.6), (2004.73, 2.2), (2004.78, 5.1), (2004.83, -0.8), (2004.88, 1.5),
                 (2004.93, -4.4), (2004.98, 0.3), (2005.03, 2.8), (2005.08, -2.3), (2005.13, -0.3), (2005.18, 3.7),
                 (2005.23, -1.6), (2005.28, 0.9), (2005.33, -4.8), (2005.38, -1.9), (2005.43, 1.6), (2005.48, -0.7),
                 (2005.53, -7.4), (2005.58, 1.9), (2005.63, -2.3), (2005.68, -0.1), (2005.73, 3.5), (2005.78, -3.0),
                 (2005.83, -1.0), (2005.88, 0.8), (2005.93, -4.9), (2005.98, -1.8), (2006.03, 2.0), (2006.08, -3.1),
                 (2006.13, -0.9), (2006.18, 1.4), (2006.23, -4.2), (2006.28, -2.0), (2006.33, 0.6), (2006.38, -1.4),
                 (2006.43, 3.1), (2006.48, -3.4), (2006.53, -0.6), (2006.58, 1.9), (2006.63, -2.7), (2006.68, -5.3),
                 (2006.73, 0.2), (2006.78, -1.6), (2006.83, 3.3), (2006.88, -2.1), (2006.93, -0.8), (2006.98, -3.9),
                 (2007.03, 1.6), (2007.08, -2.0), (2007.13, -0.4), (2007.18, -3.4), (2007.23, 2.2), (2007.28, -1.2),
                 (2007.33, -4.0), (2007.38, 0.3), (2007.43, -1.9), (2007.48, 2.6), (2007.53, -3.3), (2007.58, -0.5),
                 (2007.63, -5.8), (2007.68, -2.1), (2007.73, 1.4), (2007.78, -2.8), (2007.83, -0.9), (2007.88, -4.2),
                 (2007.93, 0.9), (2007.98, -3.1), (2008.03, -1.5), (2008.08, -5.0), (2008.13, -2.6), (2008.18, 0.4),
                 (2008.23, -4.0), (2008.28, -1.8), (2008.33, -6.7), (2008.38, -2.9), (2008.43, -0.5), (2008.48, -4.3),
                 (2008.53, -2.0), (2008.58, -7.3), (2008.63, -3.2), (2008.68, -1.1), (2008.73, -4.7), (2008.78, 1.9),
                 (2008.83, -2.5), (2008.88, -5.8), (2008.93, -3.4), (2008.98, -0.9), (2009.03, -4.2), (2009.08, -1.6),
                 (2009.13, -6.1), (2009.18, -2.9), (2009.23, 0.3), (2009.28, -4.9), (2009.33, -2.7), (2009.38, -7.6),
                 (2009.43, -3.9), (2009.48, -1.5), (2009.53, -5.2), (2009.58, -2.9), (2009.63, -6.6), (2009.68, -3.5),
                 (2009.73, -1.9), (2009.78, -4.9), (2009.83, -3.0), (2009.88, -7.2), (2010.02, 0.2), (2010.07, 2.6),
                 (2010.12, -1.3), (2010.17, 1.5), (2010.22, 4.0), (2010.27, -0.2), (2010.32, 2.1), (2010.37, -1.5),
                 (2010.42, 0.9), (2010.47, 2.9), (2010.52, -0.6), (2010.57, 1.8), (2010.62, 3.9), (2010.67, 0.1),
                 (2010.72, -2.7), (2010.77, 2.3), (2010.82, 0.4), (2010.87, 1.7), (2010.92, -2.2)]
volt_gps_extra = [(2001.575, 0.1), (2001.605, 3.1), (2001.635, -1.9), (2001.665, 1.2), (2001.695, -3.0), (2001.725, 0.7),
                  (2001.755, 2.4), (2001.785, -0.8), (2001.815, 1.9), (2001.845, -2.4), (2001.875, 4.5), (2001.905, 0.9),
                  (2001.935, -1.6), (2001.965, 2.9), (2002.015, 5.1), (2002.055, 1.0), (2002.095, 3.9), (2002.135, 6.3),
                  (2002.175, 2.6), (2002.215, 4.9), (2002.255, 1.7), (2002.295, 7.6), (2002.335, 3.0), (2002.375, 0.1),
                  (2002.415, 5.0), (2002.455, 2.3), (2002.495, 7.0), (2002.535, 3.2), (2002.575, 5.4), (2002.615, 1.2),
                  (2002.655, 4.1), (2002.695, 2.9), (2002.735, 6.5), (2002.775, 1.1), (2002.815, 3.8), (2002.855, 0.3),
                  (2002.895, 4.6), (2002.935, 2.0), (2002.975, 5.7), (2003.025, 2.6), (2003.075, 0.0), (2003.125, 3.4),
                  (2003.175, 5.1), (2003.225, 1.6), (2003.275, 3.9), (2003.325, -0.5), (2003.375, 2.6), (2003.425, 5.2),
                  (2003.475, 0.6), (2003.525, 3.0), (2003.575, -2.3), (2003.625, 2.2), (2003.675, 4.7), (2003.725, -0.3),
                  (2003.775, 2.9), (2003.825, 0.9), (2003.875, -3.4), (2003.925, 1.8), (2003.975, 3.9), (2004.025, 0.2),
                  (2004.075, -1.8), (2004.125, 2.5), (2004.175, -0.3), (2004.225, 3.4), (2004.275, 0.9), (2004.325, -2.0),
                  (2004.375, 2.7), (2004.425, 5.8), (2004.475, -0.2), (2004.525, 2.0), (2004.575, -2.4), (2004.625, 1.0),
                  (2004.675, 4.2), (2004.725, -0.6), (2004.775, 1.9), (2004.825, -3.2), (2004.875, 0.4), (2004.925, 3.0),
                  (2004.975, -1.0), (2005.025, -3.4), (2005.075, 1.1), (2005.125, 3.3), (2005.175, -1.8), (2005.225, 0.9),
                  (2005.275, -3.0), (2005.325, 1.5), (2005.375, -0.9), (2005.425, 3.0), (2005.475, -2.5), (2005.525, 0.3),
                  (2005.575, -5.2), (2005.625, -1.2), (2005.675, 1.7), (2005.725, -3.5), (2005.775, 0.7), (2005.825, -2.0),
                  (2005.875, 3.9), (2005.925, -0.4), (2005.975, -3.6), (2006.025, 0.1), (2006.075, -2.6), (2006.125, 2.4),
                  (2006.175, -4.1), (2006.225, -0.3), (2006.275, 1.6), (2006.325, -3.1), (2006.375, -0.8), (2006.425, -5.0),
                  (2006.475, 1.0), (2006.525, -2.2), (2006.575, 0.0), (2006.625, 2.9), (2006.675, -3.0), (2006.725, -0.4),
                  (2006.775, -6.2), (2006.825, -1.4), (2006.875, 1.1), (2006.925, -2.8), (2006.975, 0.3), (2007.025, -3.6),
                  (2007.075, -1.0), (2007.125, 1.9), (2007.175, -2.4), (2007.225, -5.6), (2007.275, 0.4), (2007.325, -2.3),
                  (2007.375, 1.9), (2007.425, -3.9), (2007.475, -0.9), (2007.525, 1.3), (2007.575, -4.4), (2007.625, -1.3),
                  (2007.675, 0.6), (2007.725, -3.6), (2007.775, -6.1), (2007.825, -1.9), (2007.875, 0.5), (2007.925, -3.9),
                  (2007.975, -2.5), (2008.025, -4.6), (2008.075, 0.8), (2008.125, -3.3), (2008.175, -1.4), (2008.225, -5.6),
                  (2008.275, -0.2), (2008.325, -3.0), (2008.375, -5.0), (2008.425, -1.6), (2008.475, 0.3), (2008.525, -4.6),
                  (2008.575, -2.6), (2008.625, -6.0), (2008.675, -0.1), (2008.725, -3.2), (2008.775, -5.0), (2008.825, -1.2),
                  (2008.875, -3.9), (2008.925, -6.9), (2008.975, -2.4), (2009.025, 0.9), (2009.075, -3.5), (2009.125, -1.2),
                  (2009.175, -4.6), (2009.225, -2.4), (2009.275, -6.1), (2009.325, -0.3), (2009.375, -3.9), (2009.425, -5.8),
                  (2009.475, -2.0), (2009.525, -4.1), (2009.575, -0.7), (2009.625, -3.6), (2009.675, -8.1), (2009.725, -2.6),
                  (2009.775, -5.5), (2009.825, -1.4), (2009.875, -4.0), (2010.015, 1.3), (2010.065, -1.2), (2010.115, 2.2),
                  (2010.165, -0.4), (2010.215, 3.3), (2010.265, 1.0), (2010.315, -1.1), (2010.365, 4.6), (2010.415, 2.4),
                  (2010.465, -0.4), (2010.515, 1.5), (2010.565, -2.5), (2010.615, 2.0), (2010.665, 0.3), (2010.715, 3.0),
                  (2010.765, -0.6), (2010.815, 2.1), (2010.865, -2.6), (2010.915, 1.3), (2010.945, 3.0)]
volt_ps_t = [2003.16, 2003.50, 2003.37, 2003.29, 2003.45, 2003.61, 2003.71, 2003.84, 2003.90, 2003.97,
             2004.05, 2004.11, 2004.29, 2004.45, 2004.50, 2004.61, 2004.69, 2004.76, 2004.87, 2004.95,
             2005.03, 2005.08, 2005.29, 2005.21, 2005.45, 2005.61, 2005.74, 2005.79, 2005.97, 2006.08,
             2006.19, 2006.34, 2006.45, 2006.55, 2006.69, 2006.82, 2006.95, 2007.08, 2007.19, 2007.21,
             2007.34, 2007.45, 2007.55, 2007.66, 2007.77]
volt_ps_y = [1.5, 2.3, -1.1, 0.8, 0.4, 0.1, 0.4, 1.3, -0.2, 0.8,
             1.1, -0.2, 0.4, 0.5, -0.2, 1.2, 0.4, 1.5, 0.7, 1.9,
             1.2, 0.4, 1.3, -0.4, -0.2, -0.2, -0.6, 0.2, 1.3, 0.4,
             0.4, -1.0, -1.5, -1.1, -0.8, -0.6, -0.4, -0.3, -2.2, -0.4,
             -0.3, -1.0, -0.6, -1.0, -1.7]

trev_gps_t = [2004.28, 2004.31, 2004.34, 2004.37, 2004.40, 2004.43, 2004.46, 2004.49, 2004.52, 2004.55,
              2004.58, 2004.61, 2004.64, 2004.67, 2004.70, 2004.75, 2004.80, 2004.85, 2004.90, 2004.95,
              2005.00, 2005.05, 2005.10, 2005.15, 2005.20, 2005.25, 2005.30, 2005.35, 2005.40, 2005.45,
              2005.50, 2005.55, 2005.60, 2005.65, 2005.70, 2005.75, 2005.80, 2005.85, 2005.90, 2005.95,
              2006.00, 2006.05, 2006.10, 2006.15, 2006.20, 2006.25, 2006.30, 2006.35, 2006.40, 2006.45,
              2006.50, 2006.55, 2006.60, 2006.65, 2006.70, 2006.75, 2006.80, 2006.85, 2006.90, 2006.95,
              2007.00, 2007.05, 2007.10, 2007.15, 2007.20, 2007.25, 2007.30, 2007.35, 2007.40, 2007.45,
              2007.50, 2007.55, 2007.60, 2007.65, 2007.70, 2007.75, 2007.80, 2007.98, 2008.02, 2008.06,
              2008.10, 2008.15, 2008.20, 2008.25, 2008.30, 2008.35, 2008.40, 2008.45, 2008.50, 2008.55,
              2008.60, 2008.65, 2008.70, 2008.75, 2008.80, 2008.85, 2008.90, 2008.95, 2009.00, 2009.05,
              2009.10, 2009.15, 2009.20, 2009.25, 2009.30, 2009.35, 2009.40, 2009.45, 2009.50, 2009.55,
              2009.60, 2009.65, 2009.70, 2009.75, 2009.80, 2009.85, 2009.90, 2009.95, 2010.00, 2010.05,
              2010.10, 2010.15, 2010.20, 2010.25, 2010.30, 2010.35, 2010.40, 2010.45, 2010.50, 2010.55,
              2010.60, 2010.65, 2010.70, 2010.75, 2010.80, 2010.85, 2010.90, 2010.95, 2010.98]
trev_gps_y = [-4.7, 1.2, -1.6, 3.0, 0.4, -2.3, 4.1, 1.7, 7.6, -0.8,
              2.5, -3.1, 0.9, 3.8, -1.2, 1.9, -3.8, 4.6, 0.2, 2.9,
              -2.1, 1.4, 5.0, -0.6, 2.2, -4.3, 0.8, 3.5, -1.7, 6.6,
              1.0, -2.8, 2.6, -0.3, 4.4, -5.2, 1.5, -1.9, 3.2, 0.1,
              8.7, -2.5, 2.0, -0.8, 4.0, -3.4, 0.6, 2.8, -1.4, 5.3,
              -4.6, 1.1, -0.5, 3.6, -2.2, 0.4, 6.2, -1.0, 2.3, -3.7,
              0.9, 4.8, -1.8, 1.6, -5.0, 2.9, -0.7, -3.0, 3.9, 0.3,
              -2.6, 1.4, -6.2, -0.4, 2.0, -3.3, -8.3, -1.2, 1.8, -2.9,
              0.4, -4.1, -0.6, 2.3, -1.9, 0.9, -3.0, 1.5, -0.8, 3.0,
              6.6, -1.5, 1.1, -2.4, 2.6, 0.0, -3.6, 1.9, -0.7, 3.4,
              0.8, -2.0, 2.2, -0.3, 4.1, 1.2, -1.6, 2.8, 0.5, -2.5,
              3.3, 1.0, 5.6, -0.9, 1.9, -1.8, 0.7, 2.5, -1.1, 0.6,
              -2.8, -0.2, -3.9, -1.3, -8.2, -2.5, -4.6, 0.1, -3.2, -5.8,
              -1.6, -3.9, -2.2, -6.4, -0.8, -3.5, -5.1, -2.0, -6.9]
trev_gps_more = [(2004.29, 0.6), (2004.32, -2.6), (2004.35, 2.2), (2004.38, -0.7), (2004.41, 4.8), (2004.44, 1.5),
                 (2004.47, -1.1), (2004.50, 3.4), (2004.53, 0.0), (2004.56, 6.0), (2004.59, -2.0), (2004.62, 1.9),
                 (2004.65, -0.2), (2004.68, -4.2), (2004.72, 2.7), (2004.77, 0.5), (2004.82, 3.4), (2004.87, -1.7),
                 (2004.92, 1.2), (2004.97, -3.6), (2005.02, 3.3), (2005.07, 0.0), (2005.12, -1.8), (2005.17, 2.9),
                 (2005.22, 0.7), (2005.27, 4.6), (2005.32, -2.6), (2005.37, 1.7), (2005.42, -0.8), (2005.47, 3.0),
                 (2005.52, -3.4), (2005.57, 0.4), (2005.62, 5.2), (2005.67, 1.3), (2005.72, -2.4), (2005.77, 2.4),
                 (2005.82, -0.1), (2005.87, -3.9), (2005.92, 2.0), (2005.97, 4.3), (2006.02, -1.0), (2006.07, 1.6),
                 (2006.12, -4.4), (2006.17, 2.9), (2006.22, 0.2), (2006.27, 4.6), (2006.32, -1.8), (2006.37, 1.2),
                 (2006.42, -3.3), (2006.47, 2.4), (2006.52, -0.4), (2006.57, 3.9), (2006.62, -2.6), (2006.67, 0.8),
                 (2006.72, 4.1), (2006.77, -3.1), (2006.82, 1.3), (2006.87, -0.6), (2006.92, 3.4), (2006.97, -1.7),
                 (2007.02, 2.2), (2007.07, -4.1), (2007.12, 0.5), (2007.17, 3.3), (2007.22, -2.1), (2007.27, 1.0),
                 (2007.32, -5.6), (2007.37, 0.8), (2007.42, -1.5), (2007.47, 2.8), (2007.52, -4.4), (2007.57, 0.0),
                 (2007.62, -2.2), (2007.67, 2.9), (2007.72, -1.6), (2007.77, -4.8), (2007.96, 0.8), (2008.00, -2.2),
                 (2008.04, 2.9), (2008.08, -1.0), (2008.13, 0.9), (2008.18, -2.6), (2008.23, 1.2), (2008.28, -0.6),
                 (2008.33, 2.4), (2008.38, -1.4), (2008.43, 0.2), (2008.48, -2.8), (2008.53, 1.6), (2008.58, -0.7),
                 (2008.63, 2.2), (2008.68, -1.9), (2008.73, 0.5), (2008.78, 3.5), (2008.83, -1.2), (2008.88, 1.4),
                 (2008.93, -0.4), (2008.98, 2.9), (2009.03, -1.9), (2009.08, 1.7), (2009.13, 3.8), (2009.18, -0.8),
                 (2009.23, 1.0), (2009.28, -2.7), (2009.33, 2.4), (2009.38, 0.3), (2009.43, 4.4), (2009.48, -1.2),
                 (2009.53, 2.0), (2009.58, 0.0), (2009.63, -1.8), (2009.68, 2.7), (2009.73, 0.5), (2009.78, 3.1),
                 (2009.83, -0.4), (2009.88, 1.4), (2009.93, -2.1), (2009.98, 0.9), (2010.03, -2.3), (2010.08, -0.4),
                 (2010.13, -3.6), (2010.18, -1.2), (2010.23, -5.1), (2010.28, -2.0), (2010.33, -3.4), (2010.38, -0.9),
                 (2010.43, -6.1), (2010.48, -2.4), (2010.53, -4.2), (2010.58, -1.1), (2010.63, -3.0), (2010.68, -7.6),
                 (2010.73, -1.9), (2010.78, -4.6), (2010.83, -2.7), (2010.88, -0.7), (2010.93, -4.0), (2010.97, -3.2)]
trev_gps_extra = [(2004.285, 2.4), (2004.315, -0.7), (2004.345, 3.7), (2004.375, -3.0), (2004.405, 1.7), (2004.435, 5.8),
                  (2004.465, -0.3), (2004.495, 2.6), (2004.525, -2.7), (2004.555, 0.9), (2004.585, 4.4), (2004.615, -1.0),
                  (2004.645, 2.3), (2004.675, 0.3), (2004.725, -2.9), (2004.775, 3.9), (2004.825, 1.0), (2004.875, -1.4),
                  (2004.925, 2.4), (2004.975, 5.3), (2005.025, -0.3), (2005.075, 2.5), (2005.125, -3.0), (2005.175, 1.0),
                  (2005.225, 3.8), (2005.275, -1.2), (2005.325, 2.0), (2005.375, -3.5), (2005.425, 1.3), (2005.475, 4.0),
                  (2005.525, -0.7), (2005.575, 3.1), (2005.625, -1.6), (2005.675, 0.5), (2005.725, 2.8), (2005.775, -3.3),
                  (2005.825, 3.9), (2005.875, 0.3), (2005.925, -2.5), (2005.975, 1.2), (2006.025, 3.0), (2006.075, -0.4),
                  (2006.125, 4.8), (2006.175, -2.0), (2006.225, 1.7), (2006.275, -0.9), (2006.325, 3.5), (2006.375, -5.0),
                  (2006.425, 0.9), (2006.475, -1.4), (2006.525, 2.7), (2006.575, -3.2), (2006.625, 0.2), (2006.675, 6.9),
                  (2006.725, -1.1), (2006.775, 2.1), (2006.825, -2.6), (2006.875, 0.8), (2006.925, 4.4), (2006.975, -0.7),
                  (2007.025, -2.9), (2007.075, 2.6), (2007.125, -1.1), (2007.175, 0.5), (2007.225, -3.8), (2007.275, 4.0),
                  (2007.325, -1.4), (2007.375, 2.1), (2007.425, -4.6), (2007.475, 0.4), (2007.525, -2.0), (2007.575, 3.6),
                  (2007.625, -3.8), (2007.675, -1.0), (2007.725, 1.2), (2007.775, -2.6), (2007.965, -3.4), (2008.005, 0.0),
                  (2008.045, -1.8), (2008.085, 2.1), (2008.125, -2.2), (2008.175, 1.5), (2008.225, -3.6), (2008.275, 0.6),
                  (2008.325, -1.1), (2008.375, 1.7), (2008.425, -2.0), (2008.475, 3.2), (2008.525, 0.3), (2008.575, -2.2),
                  (2008.625, 1.0), (2008.675, 4.0), (2008.725, -1.0), (2008.775, 1.8), (2008.825, -2.4), (2008.875, 2.8),
                  (2008.925, 0.9), (2008.975, -1.4), (2009.025, 2.1), (2009.075, -0.2), (2009.125, 1.3), (2009.175, 3.3),
                  (2009.225, -1.6), (2009.275, 0.6), (2009.325, 3.9), (2009.375, -0.6), (2009.425, 1.8), (2009.475, -2.2),
                  (2009.525, 3.5), (2009.575, 1.3), (2009.625, 4.2), (2009.675, -0.5), (2009.725, 2.2), (2009.775, -1.3),
                  (2009.825, 0.9), (2009.875, 3.2), (2009.925, -0.2), (2009.975, 1.6), (2010.025, -0.8), (2010.075, -3.1),
                  (2010.125, -1.5), (2010.175, -4.4), (2010.225, -2.5), (2010.275, 0.3), (2010.325, -4.8), (2010.375, -2.9),
                  (2010.425, -1.2), (2010.475, -5.4), (2010.525, -2.2), (2010.575, -3.6), (2010.625, -6.8), (2010.675, -2.9),
                  (2010.725, -4.4), (2010.775, -1.5), (2010.825, -5.2), (2010.875, -3.3), (2010.925, -1.6), (2010.965, -4.6)]
trev_ps_t = [2003.10, 2003.24, 2003.28, 2003.35, 2003.46, 2003.50, 2003.57, 2003.61, 2003.70, 2003.75,
             2003.84, 2003.90, 2004.01, 2003.97, 2004.21, 2004.41, 2004.48, 2004.55, 2004.61, 2004.70,
             2004.81, 2004.86, 2004.95, 2005.01, 2005.12, 2005.21, 2005.26, 2005.41, 2005.48, 2005.59,
             2005.68, 2005.75, 2005.86, 2005.92, 2005.97, 2006.06, 2006.12, 2006.24, 2006.32, 2006.37,
             2006.44, 2006.50, 2006.57, 2006.64, 2006.70, 2006.79, 2006.86, 2006.90, 2006.99, 2007.06,
             2007.10, 2007.19, 2007.24, 2007.32, 2007.37, 2007.44, 2007.50, 2007.57, 2007.66, 2007.70]
trev_ps_y = [2.4, -1.4, 1.9, 2.4, 2.3, 1.4, 2.3, 1.0, 3.4, 1.5,
             1.9, 2.6, 2.8, 0.3, 1.9, 0.4, -2.1, -2.5, 0.2, 0.8,
             1.9, 1.0, 0.3, 2.0, 0.3, 2.2, 4.0, 2.3, 0.4, 0.6,
             0.4, 0.2, 1.4, 4.7, 1.6, -0.6, 1.0, -0.9, -0.2, -0.9,
             -0.4, -1.4, -1.2, -1.2, -0.6, 0.4, 2.4, 3.9, 3.5, -1.2,
             2.6, 6.0, 0.8, -2.1, -3.5, -0.8, -3.7, 1.0, 0.2, -4.4]

stations = ["CAVA", "SFEL", "VOLT", "TREV"]
year_ticks = [2002, 2003, 2004, 2005, 2006, 2007, 2008, 2009, 2010, 2011]
year_ticks_right = [2003, 2004, 2005, 2006, 2007, 2008, 2009, 2010, 2011]

# ---------------- style ----------------
sns.set_theme(style="white")
plt.rcParams["font.family"] = ["Open Sans", "DejaVu Sans"]

W, H = 1420, 1212
fig = plt.figure(figsize=(W / 100, H / 100), dpi=100)
fig.patch.set_facecolor("white")

def box(x0, y0, x1, y1):
    return [x0 / W, 1 - y1 / H, (x1 - x0) / W, (y1 - y0) / H]

GPS_C = "#2f4ea6"
PS_C = "#e8281e"
EDGE = "#4a4a4a"
TXT = "#2a2a2a"

def gps_frame(t, y, *groups):
    tt = list(t)
    yy = list(y)
    for g in groups:
        tt += [p[0] for p in g]
        yy += [p[1] for p in g]
    return pd.DataFrame({"t": tt, "d": yy})

panels = [
    dict(name="CAVA", rect=box(87, 47, 720, 545),
         gps=gps_frame(cava_gps_t, cava_gps_y, cava_gps_more, cava_gps_extra),
         pt=cava_ps_t, py=cava_ps_y,
         xlim=(2001.3, 2011.3), xt=year_ticks, ylim=(-25.3, 31.7), yt=list(range(-20, 31, 10)),
         xlab=False, ylab=True, ylab_y=0.478, tx=0.52),
    dict(name="SFEL", rect=box(775, 47, 1405, 545),
         gps=gps_frame(sfel_gps_t, sfel_gps_y, sfel_gps_more, sfel_gps_extra),
         pt=sfel_ps_t, py=sfel_ps_y,
         xlim=(2002.81, 2011.24), xt=year_ticks_right, ylim=(-42.9, 37.9), yt=list(range(-40, 31, 10)),
         xlab=False, ylab=False, ylab_y=0.5, tx=0.51),
    dict(name="VOLT", rect=box(87, 633, 720, 1133),
         gps=gps_frame(volt_gps_t, volt_gps_y, volt_gps_more, volt_gps_extra),
         pt=volt_ps_t, py=volt_ps_y,
         xlim=(2001.3, 2011.3), xt=year_ticks, ylim=(-20.8, 20.1), yt=list(range(-20, 21, 5)),
         xlab=True, ylab=True, ylab_y=0.566, tx=0.51),
    dict(name="TREV", rect=box(775, 633, 1405, 1133),
         gps=gps_frame(trev_gps_t, trev_gps_y, trev_gps_more, trev_gps_extra),
         pt=trev_ps_t, py=trev_ps_y,
         xlim=(2002.81, 2011.24), xt=year_ticks_right, ylim=(-20.0, 20.0), yt=list(range(-20, 21, 5)),
         xlab=True, ylab=False, ylab_y=0.5, tx=0.5),
]

for p in panels:
    ax = fig.add_axes(p["rect"])
    ax.set_facecolor("white")
    ps = pd.DataFrame({"t": p["pt"], "d": p["py"]})
    sns.scatterplot(data=p["gps"], x="t", y="d", ax=ax, color=GPS_C, s=13, linewidth=0, zorder=2, legend=False)
    sns.scatterplot(data=ps, x="t", y="d", ax=ax, color=PS_C, s=115, linewidth=0, zorder=3, legend=False)
    ax.set_xlim(*p["xlim"])
    ax.set_ylim(*p["ylim"])
    ax.set_xticks(p["xt"])
    ax.set_yticks(p["yt"])
    ax.grid(True, linestyle=(0, (1, 4)), color="#8a8a8a", linewidth=0.9, zorder=0)
    ax.set_axisbelow(True)
    for sp in ax.spines.values():
        sp.set_visible(True)
        sp.set_color(EDGE)
        sp.set_linewidth(1.1)
    ax.tick_params(direction="in", top=True, right=True, length=6, width=1.0,
                   color=EDGE, labelsize=16, labelcolor=TXT)
    ax.tick_params(axis="x", pad=10)
    ax.tick_params(axis="y", pad=7)
    ax.set_title(p["name"], fontsize=20, color=TXT, pad=8, x=p["tx"])
    if p["xlab"]:
        ax.set_xlabel("Time [years]", fontsize=20, color=TXT)
        ax.xaxis.set_label_coords(0.546, -0.095)
    else:
        ax.set_xlabel("")
        ax.tick_params(labelbottom=False)
    if p["ylab"]:
        ax.set_ylabel("Displacement [mm]", fontsize=20, color=TXT)
        ax.yaxis.set_label_coords(-0.072, p["ylab_y"])
    else:
        ax.set_ylabel("")
    handles = [
        Line2D([], [], marker="o", linestyle="none", markersize=2.8, markerfacecolor=GPS_C, markeredgewidth=0),
        Line2D([], [], marker="o", linestyle="none", markersize=10.5, markerfacecolor=PS_C, markeredgewidth=0),
    ]
    leg = ax.legend(handles, ["GPS", "PSInSAR"], loc="upper right", fontsize=16, frameon=True,
                    fancybox=False, borderpad=0.15, labelspacing=0.0, handletextpad=0.3,
                    handlelength=1.8, borderaxespad=0.45)
    leg.get_frame().set_edgecolor(EDGE)
    leg.get_frame().set_linewidth(1.0)
    for t in leg.get_texts():
        t.set_color(TXT)

fig.savefig("out.png", dpi=100, facecolor="white")
